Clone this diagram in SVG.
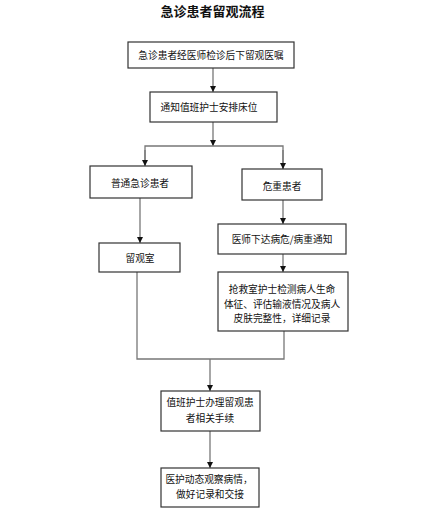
<svg xmlns="http://www.w3.org/2000/svg" width="425" height="525" viewBox="0 0 425 525">
<style>
.box{fill:#fff;stroke:#333;stroke-width:1.2}
.t{font-family:"Noto Sans CJK SC","Noto Sans",sans-serif;font-size:9.7px;fill:#111;text-anchor:middle;dominant-baseline:central}
.title{font-family:"Noto Sans CJK SC","Noto Sans",sans-serif;font-size:13px;font-weight:bold;fill:#111;text-anchor:middle;dominant-baseline:central}
.c{fill:none;stroke:#777;stroke-width:1.3}
</style>
<defs>
<marker id="ah" viewBox="0 0 6 6" refX="6" refY="3" markerWidth="6" markerHeight="6" markerUnits="userSpaceOnUse" orient="auto">
<path d="M0,0 L6,3 L0,6 Z" fill="#111"/>
</marker>
</defs>
<text class="title" x="212.5" y="10">急诊患者留观流程</text>
<g id="connectors">
<line class="c" x1="213" y1="68" x2="213" y2="92" marker-end="url(#ah)"/>
<line class="c" x1="213" y1="122" x2="213" y2="146" marker-end="url(#ah)"/>
<polyline class="c" points="145,165 145,146 283,146 283,169"/>
<line class="c" x1="145" y1="150" x2="145" y2="166" marker-end="url(#ah)"/>
<line class="c" x1="283" y1="150" x2="283" y2="169" marker-end="url(#ah)"/>
<line class="c" x1="140" y1="198" x2="140" y2="243" marker-end="url(#ah)"/>
<line class="c" x1="283" y1="200" x2="283" y2="224" marker-end="url(#ah)"/>
<line class="c" x1="283" y1="254" x2="283" y2="272" marker-end="url(#ah)"/>
<polyline class="c" points="137,272 137,359 284,359 284,331"/>
<line class="c" x1="210" y1="359" x2="210" y2="391" marker-end="url(#ah)"/>
<line class="c" x1="210" y1="431" x2="210" y2="468" marker-end="url(#ah)"/>
</g>
<g id="n1"><rect class="box" x="128" y="42" width="166" height="26"/><text class="t" x="211" y="55">急诊患者经医师检诊后下留观医嘱</text></g>
<g id="n2"><rect class="box" x="150" y="92" width="127" height="30"/><text class="t" x="209" y="107">通知值班护士安排床位</text></g>
<g id="n3"><rect class="box" x="90" y="166" width="102" height="32"/><text class="t" x="140" y="183">普通急诊患者</text></g>
<g id="n4"><rect class="box" x="242" y="169" width="80" height="31"/><text class="t" x="282" y="186">危重患者</text></g>
<g id="n5"><rect class="box" x="99" y="243" width="81" height="29"/><text class="t" x="140" y="258">留观室</text></g>
<g id="n6"><rect class="box" x="218" y="224" width="128" height="30"/><text class="t" x="282" y="239">医师下达病危/病重通知</text></g>
<g id="n7"><rect class="box" x="218" y="272" width="130" height="59"/>
<text class="t" x="282" y="289">抢救室护士检测病人生命</text>
<text class="t" x="282" y="304">体征、评估输液情况及病人</text>
<text class="t" x="282" y="318">皮肤完整性，详细记录</text></g>
<g id="n8"><rect class="box" x="161" y="391" width="99" height="40"/>
<text class="t" x="210" y="402">值班护士办理留观患</text>
<text class="t" x="210" y="418">者相关手续</text></g>
<g id="n9"><rect class="box" x="161" y="468" width="98" height="39"/>
<text class="t" x="209" y="479">医护动态观察病情，</text>
<text class="t" x="210" y="494">做好记录和交接</text></g>
</svg>
